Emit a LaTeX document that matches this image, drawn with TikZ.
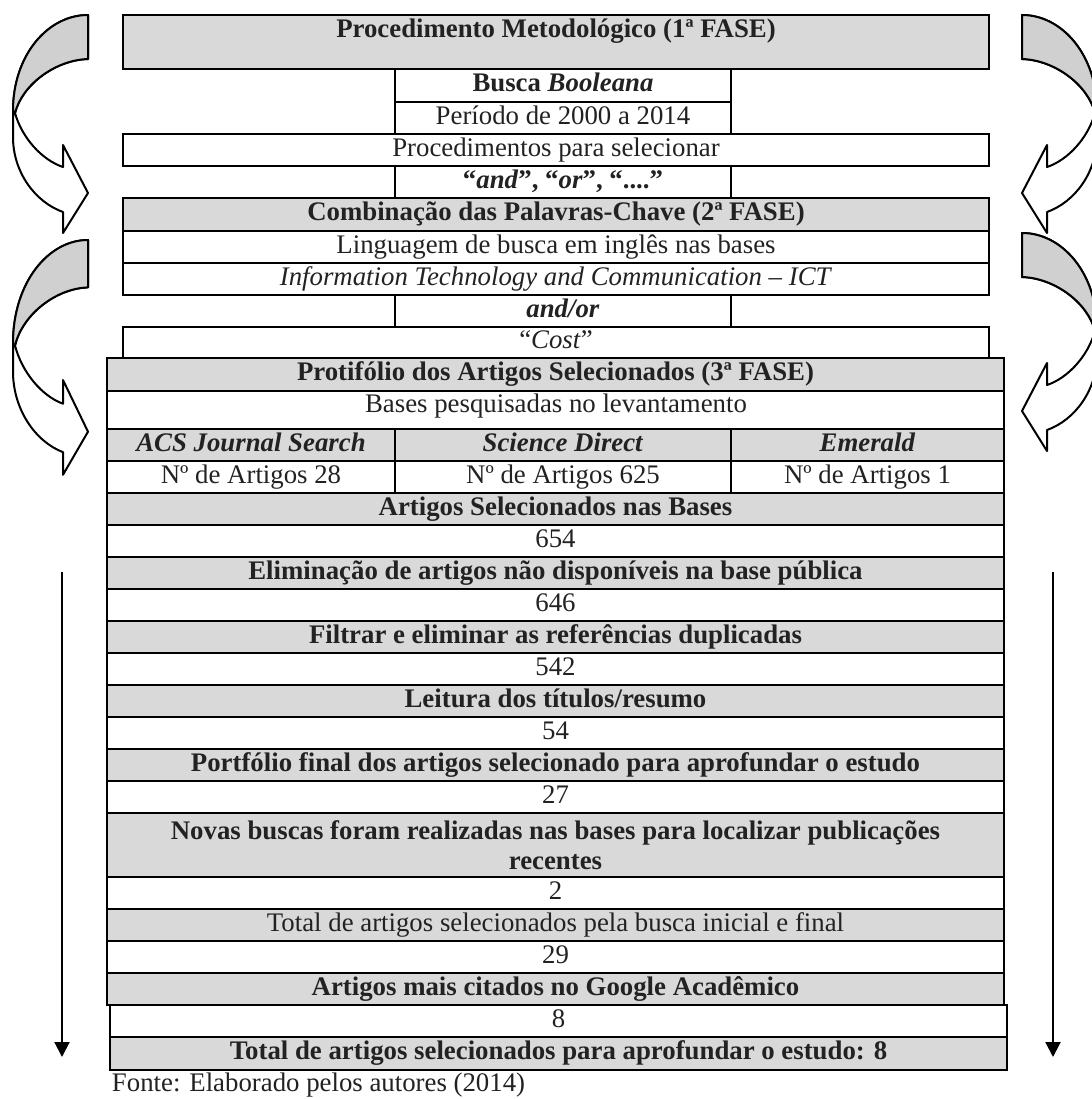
\documentclass[tikz,border=0pt]{standalone}
\usepackage{fontspec}
\setmainfont{Liberation Serif}
\usetikzlibrary{arrows.meta}
\definecolor{cellgray}{HTML}{D9D9D9}
\definecolor{arrgray}{HTML}{D0D0D0}
\definecolor{txt}{HTML}{222222}
\newcommand\mkcell[7]{%
  \node[cellbox,#6,minimum width={(#4-#2)*0.5pt},minimum height={(#5-#3)*0.5pt},anchor=north west] (#1) at (#2,#3) {#7};}
\tikzset{
  basefont/.style={font=\fontsize{13.4pt}{15pt}\selectfont},
  cellbox/.style={draw=black, line width=1pt, inner sep=0pt, outer sep=0pt, text=txt, basefont, text height=9.3pt, text depth=3.3pt},
  grayc/.style={fill=cellgray},
  whitec/.style={fill=white},
  twoline/.style={text height=, text depth=, align=center},
  txtn/.style={text=txt, basefont, inner sep=0pt, outer sep=0pt, text height=9.3pt, text depth=3.3pt},
  downarrow/.style={line width=1pt, -{Triangle[width=7.5pt,length=7.5pt]}},
  curvarrow/.pic={
    \path[draw=black, fill=white, line width=1pt, line join=round]
      (0,0) .. controls (-40,0) and (-75,40) .. (-75,96) -- (-75,122)
      .. controls (-75,157) and (-53,187) .. (-25,197) -- (-25,218) -- (0,178) -- (-25,130) -- (-25,152)
      .. controls (-46,145) and (-66,123) .. (-73,98)
      .. controls (-66,70) and (-33,45) .. (0,44) -- cycle;
    \path[draw=black, fill=arrgray, line width=1pt, line join=round]
      (0,0) .. controls (-40,0) and (-75,40) .. (-75,96) -- (-73,98)
      .. controls (-66,70) and (-33,45) .. (0,44) -- cycle;
  }
}
\begin{document}
\begin{tikzpicture}[x=0.5pt,y=-0.5pt]
\useasboundingbox[fill=white] (0,0) rectangle (1092,1099);

% curved arrows
\pic at (88,15) {curvarrow};
\pic[yscale=1.077] at (88,240) {curvarrow};
\pic[xscale=-1] at (1022,15) {curvarrow};
\pic[xscale=-1] at (1022,233) {curvarrow};

% straight down arrows
\coordinate (la1) at (62,572);
\coordinate (la2) at (62,1057);
\coordinate (ra1) at (1053,572);
\coordinate (ra2) at (1053,1057);
\draw[downarrow] (la1) -- (la2);
\draw[downarrow] (ra1) -- (ra2);

% top table
\mkcell{t1}{123}{15}{989}{69}{grayc}{}
\node[txtn] (t1t) at (556,31) {\textbf{Procedimento Metodológico (1ª FASE)}};
\mkcell{t2}{395}{69}{731}{102}{whitec}{\textbf{Busca \textit{Booleana}}}
\mkcell{t3}{395}{102}{731}{134}{whitec}{Período de 2000 a 2014}
\mkcell{t4}{123}{134}{989}{166}{whitec}{Procedimentos para selecionar}
\mkcell{t5}{395}{166}{731}{198}{whitec}{\textbf{“\textit{and}”, “\textit{or}”, “....”}}
\mkcell{t6}{123}{198}{989}{231}{grayc}{\textbf{Combinação das Palavras-Chave (2ª FASE)}}
\mkcell{t7}{123}{231}{989}{263}{whitec}{Linguagem de busca em inglês nas bases}
\mkcell{t8}{123}{263}{989}{295}{whitec}{\textit{Information Technology and Communication – ICT}}
\mkcell{t9}{395}{295}{731}{327}{whitec}{\textbf{\textit{and/or}}}
\mkcell{t10}{123}{327}{989}{358}{whitec}{“\textit{Cost}”}

% bottom table
\mkcell{b1}{107}{358}{1004}{391}{grayc}{\textbf{Protifólio dos Artigos Selecionados (3ª FASE)}}
\mkcell{b2}{107}{391}{1004}{429}{whitec}{}
\node[txtn] (b2t) at (556,406) {Bases pesquisadas no levantamento};
\mkcell{b3a}{107}{429}{395}{461}{grayc}{\textbf{\textit{ACS Journal Search}}}
\mkcell{b3b}{395}{429}{731}{461}{grayc}{\textbf{\textit{Science Direct}}}
\mkcell{b3c}{731}{429}{1004}{461}{grayc}{\textbf{\textit{Emerald}}}
\mkcell{b4a}{107}{461}{395}{493}{whitec}{Nº de Artigos 28}
\mkcell{b4b}{395}{461}{731}{493}{whitec}{Nº de Artigos 625}
\mkcell{b4c}{731}{461}{1004}{493}{whitec}{Nº de Artigos 1}
\mkcell{b5}{107}{493}{1004}{525}{grayc}{\textbf{Artigos Selecionados nas Bases}}
\mkcell{b6}{107}{525}{1004}{557}{whitec}{654}
\mkcell{b7}{107}{557}{1004}{589}{grayc}{\textbf{Eliminação de artigos não disponíveis na base pública}}
\mkcell{b8}{107}{589}{1004}{621}{whitec}{646}
\mkcell{b9}{107}{621}{1004}{653}{grayc}{\textbf{Filtrar e eliminar as referências duplicadas}}
\mkcell{b10}{107}{653}{1004}{685}{whitec}{542}
\mkcell{b11}{107}{685}{1004}{717}{grayc}{\textbf{Leitura dos títulos/resumo}}
\mkcell{b12}{107}{717}{1004}{749}{whitec}{54}
\mkcell{b13}{107}{749}{1004}{781}{grayc}{\textbf{Portfólio final dos artigos selecionado para aprofundar o estudo}}
\mkcell{b14}{107}{781}{1004}{813}{whitec}{27}
\mkcell{b15}{107}{813}{1004}{877}{grayc,twoline}{\textbf{Novas buscas foram realizadas nas bases para localizar publicações}\\\textbf{recentes}}
\mkcell{b16}{107}{877}{1004}{909}{whitec}{2}
\mkcell{b17}{107}{909}{1004}{941}{grayc}{Total de artigos selecionados pela busca inicial e final}
\mkcell{b18}{107}{941}{1004}{973}{whitec}{29}
\mkcell{b19}{107}{973}{1004}{1005}{grayc}{\textbf{Artigos mais citados no Google Acadêmico}}
\mkcell{b20}{110}{1005}{1007}{1037}{whitec}{8}
\mkcell{b21}{110}{1037}{1007}{1070}{grayc}{\textbf{Total de artigos selecionados para aprofundar o estudo: 8}}

\node[txtn, anchor=base west] (fonte) at (112,1091) {Fonte: Elaborado pelos autores (2014)};
\end{tikzpicture}
\end{document}
